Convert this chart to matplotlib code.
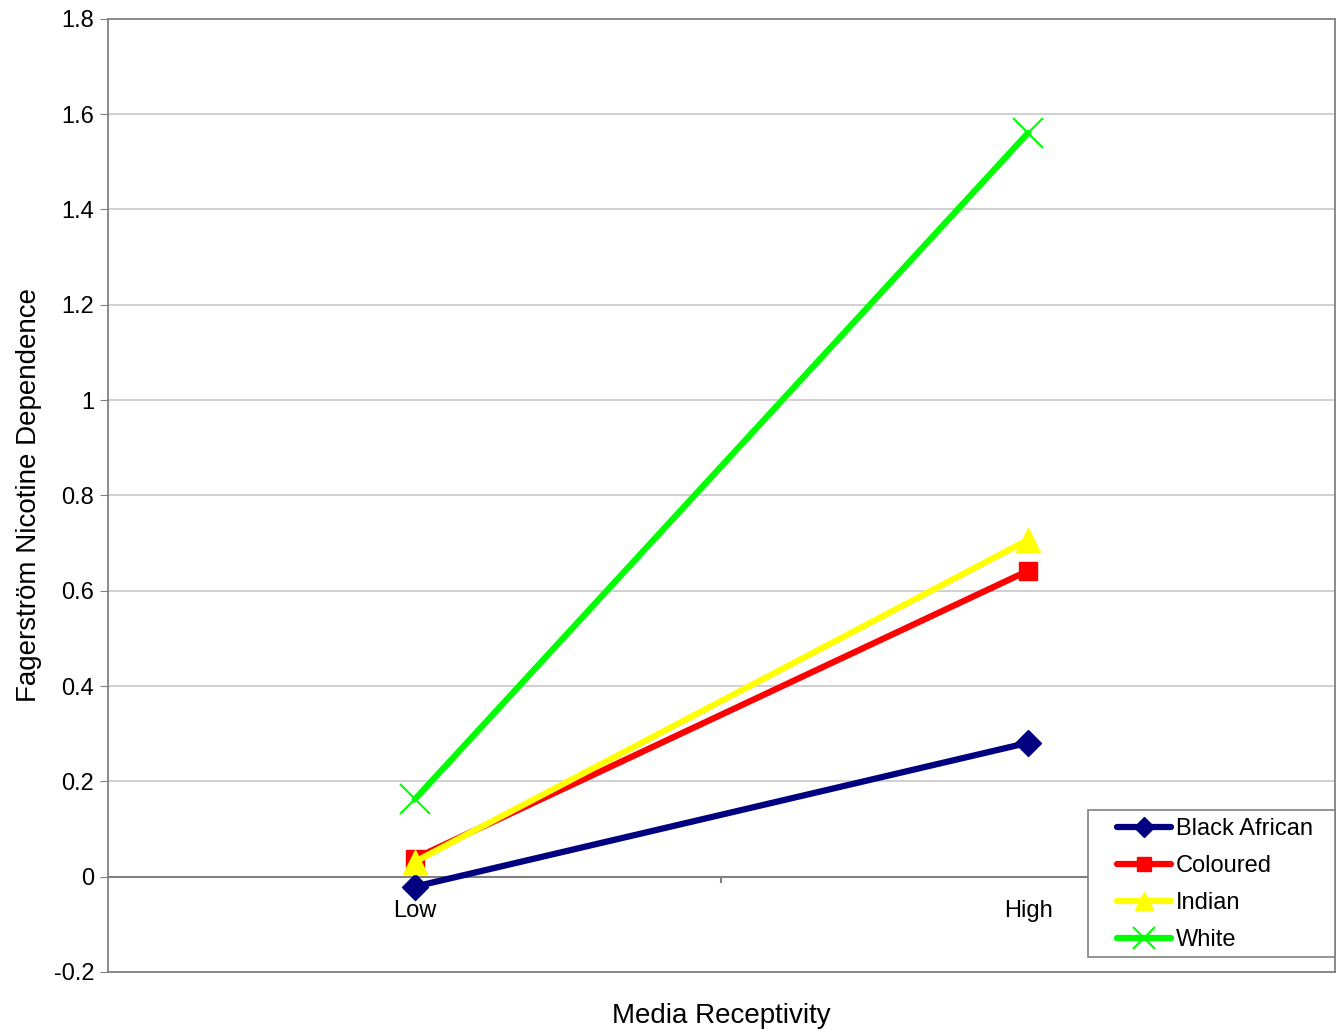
# Fagerström nicotine dependence by media receptivity, per population group

import matplotlib
matplotlib.use('Agg')
from matplotlib import pyplot as plt
from matplotlib.patches import Rectangle

plt.rcParams['font.family'] = ['Liberation Sans', 'DejaVu Sans']

categories = ['Low', 'High']
groups = ['Black African', 'Coloured', 'Indian', 'White']
black_african = [-0.021, 0.281]
coloured = [0.038, 0.642]
indian = [0.031, 0.707]
white = [0.162, 1.561]
y_ticks = [-0.2, 0, 0.2, 0.4, 0.6, 0.8, 1, 1.2, 1.4, 1.6, 1.8]

series = [black_african, coloured, indian, white]
colors = ['#000080', '#ff0000', '#ffff00', '#00ff00']
markers = ['D', 's', '^', 'x']
msizes = [13, 13, 17, 22]

fig = plt.figure(figsize=(13.41, 10.36), dpi=100)
ax = fig.add_axes([0.0805, 0.0618, 0.915, 0.920])

x = list(range(len(categories)))
for vals, name, c, m, ms in zip(series, groups, colors, markers, msizes):
  mew = 1.5 if m == 'x' else 1.0
  ax.plot(x, vals, color=c, lw=4.5, marker=m, ms=ms, mew=mew,
          label=name, zorder=3, solid_capstyle='round')

ax.set_xlim(-0.5, len(categories) - 0.5)
ax.set_ylim(-0.2, 1.8)
ax.set_yticks(y_ticks)
ax.set_yticklabels(['%g' % v for v in y_ticks])
ax.tick_params(axis='y', labelsize=17, length=6, color='#808080', pad=4)
ax.set_xticks([])

for s in ax.spines.values():
  s.set_color('#808080')
  s.set_linewidth(1.3)

# grid lines
for v in y_ticks[1:-1]:
  if v != 0:
    ax.axhline(v, color='#c8c8c8', lw=1.2, zorder=1)

# category axis crosses at zero
ax.axhline(0, color='#808080', lw=1.5, zorder=2)
ax.plot([0.5, 0.5], [0, -0.012], color='#808080', lw=1.5, zorder=2)
for i, lab in enumerate(categories):
  ax.annotate(lab, (i, 0), xytext=(0, -17), textcoords='offset points',
              ha='center', va='top', fontsize=17)

ax.set_xlabel('Media Receptivity', fontsize=20, labelpad=22)
ax.set_ylabel('Fagerström Nicotine Dependence', fontsize=20, labelpad=8)

# legend box drawn separately so it can be wider than the entries
ax.add_patch(Rectangle((0.7987, 0.0157), 0.2013, 0.1543, transform=ax.transAxes,
                       facecolor='white', edgecolor='#808080', lw=1.2,
                       zorder=5, clip_on=False))
leg = ax.legend(loc='center left', bbox_to_anchor=(0.8223, 0.0915), fontsize=17,
                frameon=False, borderaxespad=0, borderpad=0,
                handlelength=2.3, labelspacing=0.64, handletextpad=0.2,
                markerscale=0.75)
leg.set_zorder(6)

fig.savefig('out.png', dpi=100)
